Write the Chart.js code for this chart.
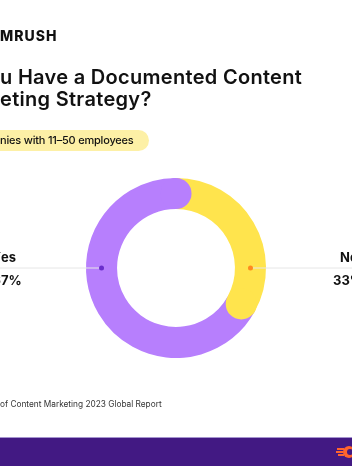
<!DOCTYPE html>
<html>
<head>
<meta charset="utf-8">
<script src="https://cdn.jsdelivr.net/npm/chart.js@4/dist/chart.umd.min.js"></script>
<style>
  html, body { margin: 0; padding: 0; }
  body { width: 352px; height: 466px; position: relative; overflow: hidden; background: #fff; font-family: Inter, sans-serif; color: #111; }
  #chart { position: absolute; left: 0; top: 0; }
  .abs { position: absolute; white-space: nowrap; }
  .cut { position: relative; }
  .hid { position: absolute; right: 100%; }
  .logo { left: 0; top: 27px; font-size: 14px; font-weight: 800; letter-spacing: 1px; }
  .title { left: 0; font-size: 20px; font-weight: 600; line-height: 22px; letter-spacing: 0.3px; }
  .pill { left: -20px; top: 130px; height: 21px; line-height: 21px; padding: 0 15px 0 20px; background: #fdf0a6; border-radius: 11px; font-size: 11px; font-weight: 500; letter-spacing: -0.2px; }
  .lab { font-size: 13px; font-weight: 700; }
  .src { left: 0; top: 399px; font-size: 8.3px; color: #333; }
  .foot { left: 0; top: 437px; width: 352px; height: 29px; background: #421983; border-top: 1px solid #a594cf; }
</style>
</head>
<body>
<canvas id="chart" width="352" height="466"></canvas>
<div class="abs logo"><span class="cut"><span class="hid">SE</span>MRUSH</span></div>
<div class="abs title" style="top:66px"><span class="cut"><span class="hid">Do Yo</span>u Have a Documented Content</span></div>
<div class="abs title" style="top:88px"><span class="cut"><span class="hid">Mark</span>eting Strategy?</span></div>
<div class="abs pill"><span class="cut"><span class="hid">Compa</span>nies with 11–50 employees</span></div>
<div class="abs lab" style="left:1px; top:249px;"><span class="cut"><span class="hid">Y</span>es</span></div>
<div class="abs lab" style="left:1px; top:272px;"><span class="cut"><span class="hid">6</span>7%</span></div>
<div class="abs lab" style="left:340px; top:249px;">No</div>
<div class="abs lab" style="left:333px; top:272px;">33%</div>
<div class="abs src"><span class="cut"><span class="hid">Source: State </span>of Content Marketing 2023 Global Report</span></div>
<div class="abs foot">
  <svg width="20" height="14" style="position:absolute; left:336px; top:7px" viewBox="0 0 20 14">
    <path d="M1 4 H8 M0 7 H7 M2 10 H8" stroke="#ff642d" stroke-width="2"/>
    <circle cx="13" cy="7" r="6" fill="#ff642d"/>
    <circle cx="14" cy="7" r="3" fill="#421983"/>
  </svg>
</div>
<script>
const labels = ['No', 'Yes'];
const shares = [33, 67];
const colors = ['#ffe44d', '#b77ffd'];
const dotColors = ['#ff8a1d', '#6a2ecc'];

// round cap at the clockwise end of each arc, plus the leader lines
const capsAndLeaders = {
    id: 'capsAndLeaders',
    afterDatasetsDraw(chart) {
        const c = chart.ctx;
        const arcs = chart.getDatasetMeta(0).data;
        arcs.forEach(function (arc, i) {
            const p = arc.getProps(['x', 'y', 'endAngle', 'innerRadius', 'outerRadius'], true);
            const mid = (p.innerRadius + p.outerRadius) / 2;
            const r = (p.outerRadius - p.innerRadius) / 2;
            c.beginPath();
            c.arc(p.x + mid * Math.cos(p.endAngle), p.y + mid * Math.sin(p.endAngle), r, 0, Math.PI * 2);
            c.fillStyle = colors[i];
            c.fill();
        });
        const a = arcs[0].getProps(['x', 'y', 'innerRadius', 'outerRadius'], true);
        const mid = (a.innerRadius + a.outerRadius) / 2;
        const pts = [[a.x + mid, chart.width], [a.x - mid, 0]];
        pts.forEach(function (pt, i) {
            c.beginPath();
            c.moveTo(pt[0], a.y);
            c.lineTo(pt[1], a.y);
            c.strokeStyle = '#e6e6e6';
            c.lineWidth = 1;
            c.stroke();
            c.beginPath();
            c.arc(pt[0], a.y, 2.5, 0, Math.PI * 2);
            c.fillStyle = dotColors[i];
            c.fill();
        });
    }
};

new Chart(document.getElementById('chart'), {
    type: 'doughnut',
    data: {
        labels: labels,
        datasets: [{
            data: shares,
            backgroundColor: colors,
            borderWidth: 0
        }]
    },
    options: {
        responsive: false,
        animation: false,
        cutout: '65.5%',
        layout: { padding: { left: 86, right: 86, top: 178, bottom: 108 } },
        plugins: {
            legend: { display: false },
            tooltip: { enabled: false }
        }
    },
    plugins: [capsAndLeaders]
});
</script>
</body>
</html>
